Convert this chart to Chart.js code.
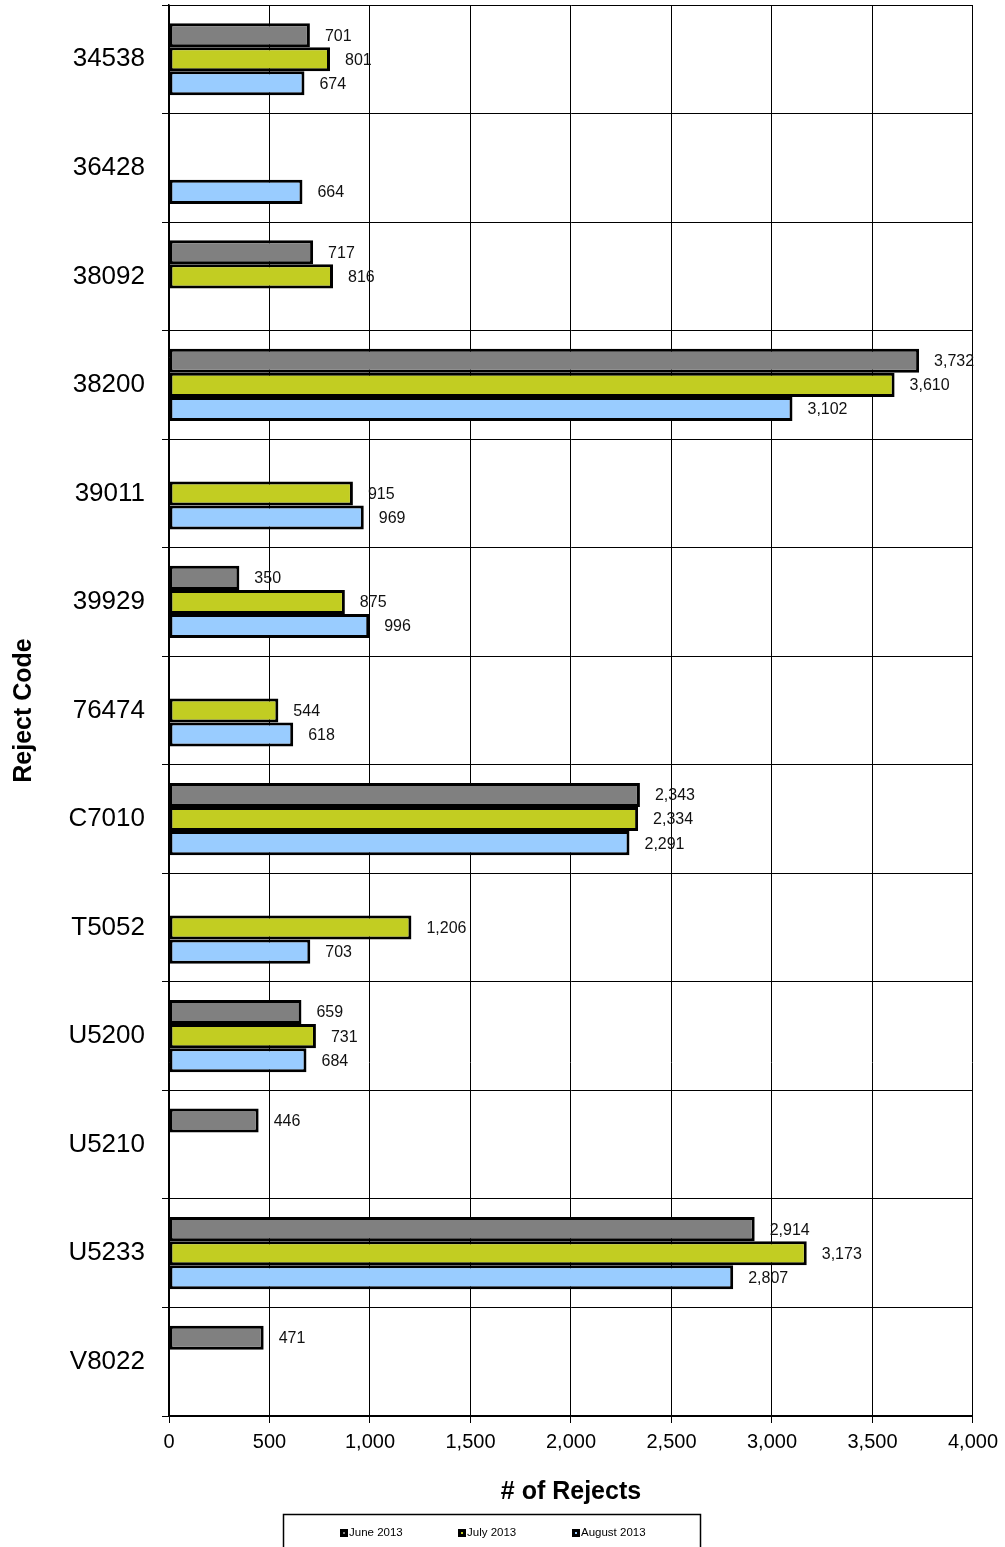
<!DOCTYPE html>
<html>
<head>
<meta charset="utf-8">
<script src="https://cdn.jsdelivr.net/npm/chart.js@4/dist/chart.umd.min.js"></script>
<style>
html,body{margin:0;padding:0;background:#fff;}
#wrap{width:1005px;height:1547px;position:relative;}
</style>
</head>
<body>
<div id="wrap"><canvas id="c" width="1005" height="1547"></canvas></div>
<script>
const categories = ["34538","36428","38092","38200","39011","39929","76474","C7010","T5052","U5200","U5210","U5233","V8022"];
const june2013   = [701, null, 717, 3732, null, 350, null, 2343, null, 659, 446, 2914, 471];
const july2013   = [801, null, 816, 3610, 915, 875, 544, 2334, 1206, 731, null, 3173, null];
const august2013 = [674, 664, null, 3102, 969, 996, 618, 2291, 703, 684, null, 2807, null];
const seriesNames = ["June 2013","July 2013","August 2013"];
const seriesColors = ["#808080","#c2cd22","#99ccff"];
const xTickMax = 4000, xTickStep = 500;

const FONT = "'Liberation Sans', Arial, sans-serif";
Chart.defaults.font.family = FONT;
Chart.defaults.color = "#000";

const valueLabels = {
  id: 'valueLabels',
  afterDatasetsDraw(chart) {
    const ctx = chart.ctx;
    ctx.save();
    ctx.font = "16px " + FONT;
    ctx.fillStyle = "#111";
    ctx.textBaseline = "middle";
    ctx.textAlign = "left";
    chart.data.datasets.forEach((ds, di) => {
      const meta = chart.getDatasetMeta(di);
      meta.data.forEach((el, i) => {
        const v = ds.data[i];
        if (v === null || v === undefined) return;
        ctx.fillText(v.toLocaleString('en-US'), el.x + 15, el.y + 1);
      });
    });
    ctx.restore();
  }
};

const boxLegend = {
  id: 'boxLegend',
  afterDraw(chart) {
    const ctx = chart.ctx;
    ctx.save();
    ctx.strokeStyle = "#000";
    ctx.lineWidth = 1.5;
    ctx.strokeRect(283.5, 1514.5, 417, 40);
    const xs = [340, 458, 572];
    const y = 1533;
    ctx.font = "11.5px " + FONT;
    ctx.textBaseline = "middle";
    ctx.textAlign = "left";
    seriesNames.forEach((name, i) => {
      ctx.fillStyle = "#000";
      ctx.fillRect(xs[i], y - 4, 8, 8);
      ctx.fillStyle = seriesColors[i];
      ctx.fillRect(xs[i] + 3, y - 1, 2, 2);
      ctx.fillStyle = "#000";
      ctx.fillText(name, xs[i] + 9, y);
    });
    ctx.restore();
  }
};

const mk = (label, data, color) => ({
  label, data,
  backgroundColor: color,
  borderColor: "#000",
  borderWidth: 3,
  borderSkipped: false,
  categoryPercentage: 0.665,
  barPercentage: 1.0
});

new Chart(document.getElementById('c'), {
  type: 'bar',
  data: {
    labels: categories,
    datasets: [
      mk(seriesNames[0], june2013, seriesColors[0]),
      mk(seriesNames[1], july2013, seriesColors[1]),
      mk(seriesNames[2], august2013, seriesColors[2])
    ]
  },
  options: {
    indexAxis: 'y',
    responsive: false,
    animation: false,
    devicePixelRatio: 1,
    layout: { padding: { top: 5, right: 32, bottom: 35, left: 0 } },
    plugins: { legend: { display: false }, tooltip: { enabled: false } },
    scales: {
      x: {
        min: 0, max: xTickMax,
        ticks: { stepSize: xTickStep, font: { size: 20 }, color: "#000", padding: 7, maxRotation: 0 },
        grid: { color: "#000", lineWidth: 1, tickLength: 7, drawTicks: true },
        border: { display: true, color: "#000", width: 1.5 },
        title: { display: true, text: "# of Rejects", font: { size: 25, weight: 'bold' }, color: "#000", padding: { top: 0, bottom: 5 } },
        afterFit(scale) { scale.height = 96; }
      },
      y: {
        offset: true,
        ticks: { font: { size: 26 }, color: "#000", padding: 17 },
        grid: { color: "#000", lineWidth: 1, offset: true, tickLength: 7 },
        border: { display: true, color: "#000", width: 1.5 },
        title: { display: true, text: "Reject Code", font: { size: 25, weight: 'bold' }, color: "#000", padding: { top: 9, bottom: 0 } },
        afterFit(scale) { scale.width = 169; scale.paddingTop = 0; scale.paddingBottom = 0; }
      }
    }
  },
  plugins: [valueLabels, boxLegend]
});
</script>
</body>
</html>
